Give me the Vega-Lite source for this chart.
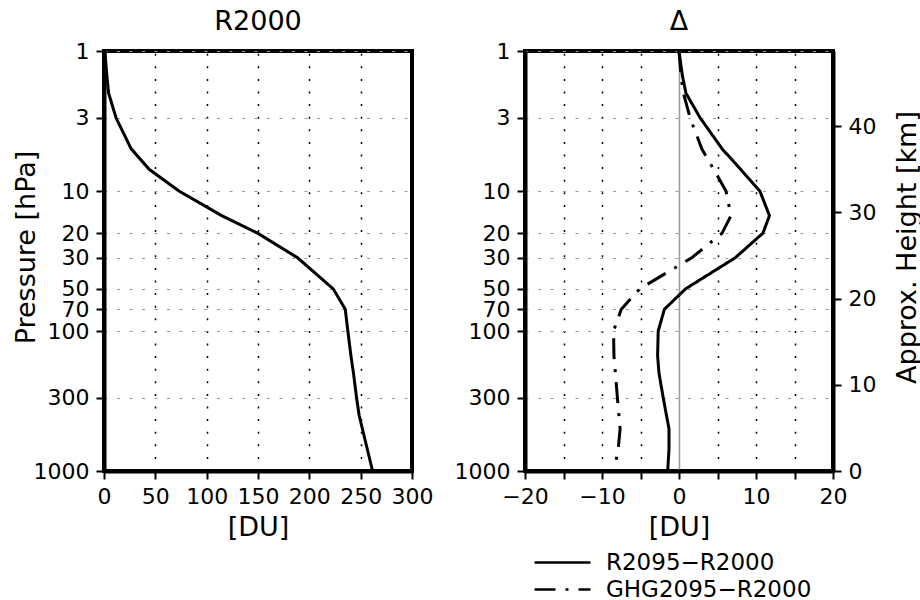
{
  "$schema": "https://vega.github.io/schema/vega-lite/v6.json",
  "padding": {"left": 10, "top": 6, "right": 0, "bottom": 0},
  "bounds": "flush",
  "spacing": 113,
  "background": "white",
  "config": {
    "font": "DejaVu Sans",
    "view": {"stroke": "black", "strokeWidth": 4},
    "title": {"fontSize": 27, "fontWeight": "normal", "color": "black", "offset": 0, "baseline": "alphabetic", "anchor": "middle", "frame": "group"},
    "axis": {
      "labelFontSize": 22, "labelColor": "black", "labelPadding": 7, "labelFlush": false, "labelOverlap": false,
      "titleFontSize": 27, "titleFontWeight": "normal", "titleColor": "black",
      "tickColor": "black", "tickSize": 8, "tickWidth": 2,
      "domainColor": "black", "domainWidth": 4,
      "gridColor": "#999999", "gridDash": [3, 9.5], "gridWidth": 1
    },
    "legend": {"labelColor": "black"}
  },
  "datasets": {
    "r2000": [
      {"p": 1, "v": 0.8}, {"p": 1.5, "v": 2.8}, {"p": 2, "v": 4.5}, {"p": 3, "v": 11.7},
      {"p": 5, "v": 26.5}, {"p": 7, "v": 44}, {"p": 10, "v": 73}, {"p": 15, "v": 114.6},
      {"p": 20, "v": 149.6}, {"p": 30, "v": 188.6}, {"p": 50, "v": 223.3}, {"p": 70, "v": 235},
      {"p": 100, "v": 237.5}, {"p": 150, "v": 240.5}, {"p": 200, "v": 243}, {"p": 300, "v": 246},
      {"p": 400, "v": 248.5}, {"p": 1000, "v": 261.6}
    ],
    "delta": [
      {"series": "R2095−R2000", "p": 1, "v": 0}, {"series": "R2095−R2000", "p": 1.5, "v": 0.44},
      {"series": "R2095−R2000", "p": 2, "v": 0.9}, {"series": "R2095−R2000", "p": 3, "v": 2.74},
      {"series": "R2095−R2000", "p": 5, "v": 5.6}, {"series": "R2095−R2000", "p": 7, "v": 8.0},
      {"series": "R2095−R2000", "p": 10, "v": 10.5}, {"series": "R2095−R2000", "p": 15, "v": 11.75},
      {"series": "R2095−R2000", "p": 20, "v": 10.9}, {"series": "R2095−R2000", "p": 30, "v": 7.3},
      {"series": "R2095−R2000", "p": 50, "v": 0.85}, {"series": "R2095−R2000", "p": 70, "v": -1.9},
      {"series": "R2095−R2000", "p": 100, "v": -2.7}, {"series": "R2095−R2000", "p": 150, "v": -2.78},
      {"series": "R2095−R2000", "p": 200, "v": -2.6}, {"series": "R2095−R2000", "p": 300, "v": -2.05},
      {"series": "R2095−R2000", "p": 500, "v": -1.3}, {"series": "R2095−R2000", "p": 700, "v": -1.3},
      {"series": "R2095−R2000", "p": 1000, "v": -1.47},
      {"series": "GHG2095−R2000", "p": 1, "v": 0}, {"series": "GHG2095−R2000", "p": 1.5, "v": 0.26},
      {"series": "GHG2095−R2000", "p": 2, "v": 0.57}, {"series": "GHG2095−R2000", "p": 3, "v": 1.44},
      {"series": "GHG2095−R2000", "p": 5, "v": 2.96}, {"series": "GHG2095−R2000", "p": 7, "v": 4.5},
      {"series": "GHG2095−R2000", "p": 10, "v": 6.1}, {"series": "GHG2095−R2000", "p": 15, "v": 6.75},
      {"series": "GHG2095−R2000", "p": 20, "v": 5.6}, {"series": "GHG2095−R2000", "p": 30, "v": 1.65},
      {"series": "GHG2095−R2000", "p": 50, "v": -5.1}, {"series": "GHG2095−R2000", "p": 70, "v": -7.5},
      {"series": "GHG2095−R2000", "p": 100, "v": -8.5}, {"series": "GHG2095−R2000", "p": 150, "v": -8.45},
      {"series": "GHG2095−R2000", "p": 200, "v": -8.26}, {"series": "GHG2095−R2000", "p": 300, "v": -8.0},
      {"series": "GHG2095−R2000", "p": 500, "v": -7.65}, {"series": "GHG2095−R2000", "p": 700, "v": -7.9},
      {"series": "GHG2095−R2000", "p": 1000, "v": -8.43}
    ],
    "heights": [{"z": 0}, {"z": 48.7}]
  },
  "hconcat": [
    {
      "width": 308,
      "height": 420,
      "title": {"text": "R2000"},
      "data": {"name": "r2000"},
      "mark": {"type": "line", "color": "black", "strokeWidth": 3},
      "encoding": {
        "x": {
          "field": "v", "type": "quantitative",
          "scale": {"domain": [0, 300], "nice": false, "zero": false},
          "axis": {"values": [0, 50, 100, 150, 200, 250, 300], "title": "[DU]", "titlePadding": 7,
                   "gridColor": "black", "gridDash": [2, 10.6], "gridWidth": 1.5}
        },
        "y": {
          "field": "p", "type": "quantitative",
          "scale": {"type": "log", "domain": [1, 1000], "reverse": true, "nice": false},
          "axis": {"values": [1, 3, 10, 20, 30, 50, 70, 100, 300, 1000], "format": "d",
                   "title": "Pressure  [hPa]", "titleAngle": 270, "titleBaseline": "alphabetic",
                   "titleX": -70, "titleY": 196, "titleAlign": "center"}
        },
        "order": {"field": "p", "type": "quantitative"}
      }
    },
    {
      "width": 308,
      "height": 420,
      "title": {"text": "Δ"},
      "layer": [
        {
          "data": {"name": "delta"},
          "mark": {"type": "line", "color": "black", "strokeWidth": 3},
          "encoding": {
            "x": {
              "field": "v", "type": "quantitative",
              "scale": {"domain": [-20, 20], "nice": false, "zero": false},
              "axis": {"values": [-20, -15, -10, -5, 0, 5, 10, 15, 20], "title": "[DU]", "titlePadding": 7,
                       "labelExpr": "datum.value % 10 === 0 ? datum.label : ''",
                       "gridColor": {"condition": {"test": "datum.value === 0", "value": "#999999"}, "value": "black"},
                       "gridDash": {"condition": {"test": "datum.value === 0", "value": []}, "value": [2, 10.6]},
                       "gridWidth": 1.5}
            },
            "y": {
              "field": "p", "type": "quantitative",
              "scale": {"type": "log", "domain": [1, 1000], "reverse": true, "nice": false},
              "axis": {"values": [1, 3, 10, 20, 30, 50, 70, 100, 300, 1000], "format": "d", "title": null}
            },
            "strokeDash": {
              "field": "series", "type": "nominal",
              "scale": {"domain": ["R2095−R2000", "GHG2095−R2000"], "range": [[1, 0], [21, 10, 3, 10]]},
              "legend": {"orient": "none", "legendX": 447, "legendY": 500, "title": null,
                         "symbolType": "M-4,0H4", "symbolSize": 196, "symbolStrokeWidth": 2.5,
                         "symbolStrokeColor": "black", "symbolFillColor": "transparent",
                         "labelFontSize": 23, "labelOffset": 32, "labelLimit": 400, "rowPadding": 3, "padding": 0}
            },
            "order": {"field": "p", "type": "quantitative"}
          }
        },
        {
          "data": {"name": "heights"},
          "mark": {"type": "point", "opacity": 0},
          "encoding": {
            "y": {
              "field": "z", "type": "quantitative",
              "scale": {"domain": [0, 48.7], "nice": false, "zero": false},
              "axis": {"orient": "right", "values": [0, 10, 20, 30, 40], "title": "Approx.  Height  [km]",
                       "titleAngle": 270, "titleBaseline": "alphabetic", "titleX": 82, "titleY": 196,
                       "titleAlign": "center"}
            }
          }
        }
      ],
      "resolve": {"scale": {"y": "independent"}}
    }
  ]
}
